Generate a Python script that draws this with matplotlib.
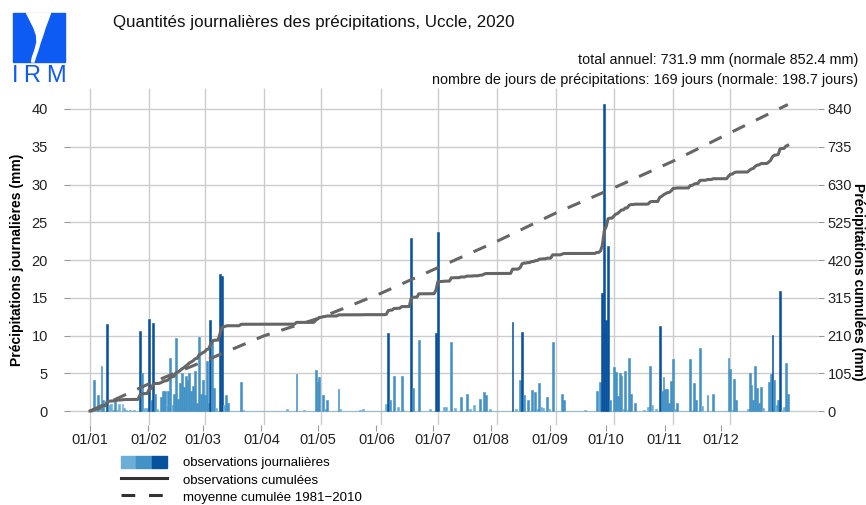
import matplotlib
matplotlib.use("Agg")
import matplotlib.pyplot as plt
import numpy as np
from matplotlib.patches import Patch, Polygon, Rectangle
from matplotlib.lines import Line2D
from matplotlib.legend_handler import HandlerTuple

plt.rcParams['font.family'] = ['Liberation Sans', 'DejaVu Sans']

# precipitations journalieres (mm), Uccle 2020
jan = [0, 0.3, 4.1, 0.5, 2.1, 0.3, 6.0, 1.4, 0, 11.5, 0.8, 0.9, 0.2, 1.4, 0.2, 0.9,
       0, 0.9, 0.4, 0.1, 0, 0.1, 0, 0.2, 0, 0, 10.6, 5.0, 0.3, 0.4, 0.4]
feb = [12.2, 1.5, 11.6, 2.2, 0.3, 0, 1.9, 2.6, 2.6, 0.5, 2.6, 7.0, 0.8, 2.2, 9.7,
       1.6, 3.7, 5.0, 3.2, 4.6, 4.1, 5.1, 2.7, 3.3, 5.3, 1.0, 9.8, 2.3, 4.1]
mar = [2.1, 6.6, 1.0, 12.0, 9.6, 3.0, 0.4, 0, 18.2, 17.9, 0.8, 2.1, 1.0, 0, 0, 0,
       0, 0, 0, 3.9, 0.2, 0, 0, 0, 0, 0, 0, 0, 0, 0, 0]
apr = [0, 0, 0, 0, 0, 0, 0, 0, 0, 0, 0, 0, 0.3, 0, 0, 0, 0, 4.9, 0, 0, 0, 0.1, 0,
       0, 0, 0, 0, 5.5, 3.9, 4.5]
may = [0, 2.1, 0.3, 1.4, 0, 0, 0, 0, 0, 2.9, 0.3, 0, 0, 0, 0, 0, 0, 0, 0, 0, 0.2,
       0, 0.3, 0, 0, 0, 0, 0, 0, 0, 0]
jun = [0, 0, 0, 0.9, 10.3, 1.4, 0, 4.6, 0, 0.6, 0, 4.6, 0.2, 0, 0, 0, 22.9, 3.1,
       0, 0, 9.4, 0, 0, 0, 0, 0, 0.3, 0, 0, 10.3]
jul = [23.7, 0, 0, 0.5, 0.5, 0, 0, 9.2, 0, 0.4, 0, 0, 1.9, 0, 0, 2.3, 0, 0.3, 0,
       0.8, 0, 0, 1.6, 0, 2.5, 2.1, 0, 0.3, 0, 0, 0]
aug = [0, 0, 0, 0, 0, 0, 0, 0, 11.8, 0, 0.3, 0, 4.1, 10.5, 2.1, 0, 1.5, 0, 2.8, 0,
       2.5, 0.3, 3.7, 0.5, 0.4, 0, 1.8, 0.3, 0, 9.1, 0]
sep = [0, 0, 0, 2.2, 1.5, 0, 0, 0, 0, 0, 0, 0, 0, 0, 0, 0.2, 0, 0, 0, 0, 0, 2.7,
       0, 3.9, 15.6, 40.6, 12.0, 21.8, 1.5, 0]
octo = [5.8, 5.2, 2.0, 5.1, 4.7, 0.3, 5.3, 0.2, 7.0, 2.2, 0, 1.0, 0, 0, 0, 0, 0.1,
        0, 0.5, 6.0, 0.8, 0, 0.3, 0, 11.3, 2.7, 4.5, 2.9, 2.9, 1.0, 4.0]
nov = [6.9, 0.3, 1.0, 0, 0, 0, 0, 0, 0, 6.9, 0.2, 3.7, 1.5, 0, 8.4, 0.7, 0, 0, 2.1, 0,
       0, 2.2, 0, 0, 0, 0, 0, 0, 0, 7.0]
dec = [5.6, 0.2, 4.2, 1.4, 0, 0, 0, 0, 0, 0.3, 5.1, 3.4, 1.5, 5.9, 3.1, 1.0, 3.2, 0.4,
       0, 0, 3.9, 4.9, 10.1, 4.1, 0.8, 1.5, 15.9, 0.2, 0.5, 6.4, 2.3]

# normales mensuelles 1981-2010 (mm)
normales = [76.1, 63.1, 70.0, 51.3, 66.5, 71.8, 73.5, 79.3, 68.9, 74.5, 79.2, 78.2]
debut_mois = [0, 31, 60, 91, 121, 152, 182, 213, 244, 274, 305, 335, 365]
etiquettes = ["01/01", "01/02", "01/03", "01/04", "01/05", "01/06",
              "01/07", "01/08", "01/09", "01/10", "01/11", "01/12"]

pluie = np.array(jan + feb + mar + apr + may + jun + jul + aug + sep + octo + nov + dec)
jours = np.arange(len(pluie))
cumul = np.cumsum(pluie)
cumul_normale = np.concatenate([[0], np.cumsum(normales)])

c_clair, c_moyen, c_fonce = '#6baed6', '#4292c6', '#08519c'
couleurs = np.where(pluie >= 10, c_fonce, np.where(pluie >= 1, c_moyen, c_clair))
gris = '#666666'

fig = plt.figure(figsize=(8.66, 5.05), dpi=100)
W, H = 866, 505
ax = fig.add_axes([70 / W, 1 - 425 / H, 748 / W, 337 / H])

ax.bar(jours, pluie, width=1.0, color=couleurs, edgecolor=couleurs, linewidth=0.4, zorder=2)
ax.set_xlim(-10.46, 380.8)
ax.set_ylim(-1.85, 42.78)
ax.set_yticks(range(0, 41, 5))
# les etiquettes du graphique d'origine sont un peu decalees par rapport a la grille
ax.set_xticks(np.array(debut_mois[:-1]) * 0.9854)
ax.set_xticklabels(etiquettes)
ax.grid(True, axis='y', color='#cccccc', linewidth=1.0, zorder=0)
ax.vlines(debut_mois[:-1], -1.85, 42.78, color='#cccccc', linewidth=1.0, zorder=0)
ax.set_axisbelow(True)
for s in ax.spines.values():
    s.set_visible(False)
ax.tick_params(axis='x', length=4, color='#999999', labelsize=10.5, pad=2, labelcolor='#222222')
ax.tick_params(axis='y', length=4, color='#999999', labelsize=10.5, pad=12, labelcolor='#222222')

ax2 = ax.twinx()
ax2.set_ylim(-1.85 * 21, 42.78 * 21)
ax2.set_yticks(range(0, 841, 105))
for s in ax2.spines.values():
    s.set_visible(False)
ax2.tick_params(axis='y', length=4, color='#999999', labelsize=10.5, pad=3, labelcolor='#222222')
ax2.plot(jours, cumul, color=gris, linewidth=2.2, solid_joinstyle='round', zorder=3)
ax2.plot(debut_mois, cumul_normale, color=gris, linewidth=2.2, dashes=(4.5, 4), zorder=3)

fig.text(17 / W, 1 - 260 / H, "Précipitations journalières (mm)", rotation=90,
         ha='center', va='center', fontsize=10, fontweight='bold')
fig.text(865 / W, 1 - 282 / H, "Précipitations cumulées (mm)", rotation=270,
         ha='right', va='center', fontsize=10, fontweight='bold')

fig.text(113 / W, 1 - 22 / H, "Quantités journalières des précipitations, Uccle, 2020",
         ha='left', va='center', fontsize=12.2, color='#111111')
fig.text(858 / W, 1 - 60 / H, "total annuel: 731.9 mm (normale 852.4 mm)",
         ha='right', va='center', fontsize=10.4, color='#111111')
fig.text(858 / W, 1 - 80 / H,
         "nombre de jours de précipitations: 169 jours (normale: 198.7 jours)",
         ha='right', va='center', fontsize=10.4, color='#111111')

# legende
poignees = [(Patch(color=c_clair), Patch(color=c_moyen), Patch(color=c_fonce)),
            Line2D([], [], color='#333333', linewidth=2.2),
            Line2D([], [], color='#333333', linewidth=2.2, dashes=(4.5, 4.5))]
fig.legend(poignees, ["observations journalières", "observations cumulées",
                      "moyenne cumulée 1981\u22122010"],
           handler_map={tuple: HandlerTuple(ndivide=None, pad=0)},
           loc='upper left', bbox_to_anchor=(121 / W, 1 - 456 / H), frameon=False,
           fontsize=9.5, handlelength=3.5, handleheight=1.0, handletextpad=1.2,
           labelspacing=0.28, borderpad=0, borderaxespad=0)

# logo IRM
bleu = '#0d5bf2'
axl = fig.add_axes([0, 0, 1, 1])
axl.set_xlim(0, W)
axl.set_ylim(H, 0)
axl.axis('off')
axl.add_patch(Rectangle((13, 13), 52, 49, color=bleu))
axl.add_patch(Polygon([(26.5, 13), (30, 20), (34, 28), (36.5, 35), (37, 42), (35, 50),
                       (32.5, 57), (31.5, 62), (34, 62), (35.5, 57), (38, 50), (40, 43),
                       (42.5, 36), (45, 28), (48, 20), (50.5, 13)], color='white'))
for lettre, xl in [("I", 15.5), ("R", 32), ("M", 55.5)]:
    axl.text(xl, 82, lettre, color=bleu, fontsize=17, ha='center', va='baseline')

fig.savefig("out.png", dpi=100)
